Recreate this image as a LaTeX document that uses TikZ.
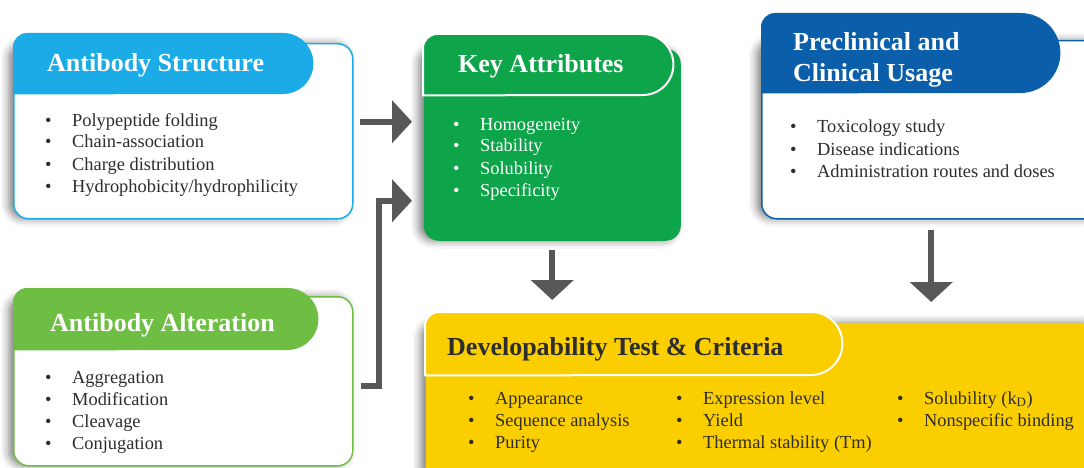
\documentclass[tikz,border=0pt]{standalone}
\usepackage{fontspec}
\setmainfont{Liberation Serif}
\usetikzlibrary{arrows.meta,positioning,shadows.blur,calc}
\definecolor{skyblue}{RGB}{27,172,231}
\definecolor{deepblue}{RGB}{11,94,170}
\definecolor{keygreen}{RGB}{14,165,74}
\definecolor{leafgreen}{RGB}{110,190,68}
\definecolor{gold}{RGB}{251,206,0}
\definecolor{arrowgray}{RGB}{88,88,88}
\definecolor{inkgray}{RGB}{45,45,45}

% bullet with a fixed gap before the item text
\newcommand{\bul}{\makebox[27pt][l]{\textbullet}}
% header pill: square lower left, small round upper left, half circle on the right
\newcommand{\pillshape}[3]{%
  \path[#3] (#1.south west) -- ([yshift=-14pt]#1.north west)
    arc[start angle=180, end angle=90, radius=14pt]
    -- ([xshift=-#2]#1.north east)
    arc[start angle=90, end angle=-90, radius=#2] -- cycle;}

\begin{document}
\begin{tikzpicture}[x=1pt,y=-1pt,
    panel/.style={rectangle, rounded corners=15pt, anchor=north west, inner sep=0pt,
      line width=1.5pt, fill=white,
      blur shadow={shadow xshift=-5pt, shadow yshift=0pt, shadow blur radius=8pt, shadow opacity=50}},
    pill/.style={rectangle, anchor=north west, inner sep=0pt},
    headtext/.style={anchor=base west, inner sep=0pt, text=white, align=left,
      font=\fontsize{26}{31}\selectfont\bfseries},
    itemlist/.style={anchor=base west, inner sep=0pt, align=left, text=inkgray,
      font=\fontsize{18.4}{22}\selectfont},
    flow/.style={draw=arrowgray, line width=6pt, line join=miter,
      -{Triangle[width=42pt,length=20pt]}}]
  \useasboundingbox (0,0) rectangle (1084,468);
  \clip (0,0) rectangle (1084,468);

  % panels
  \node[panel, draw=skyblue, minimum width=339pt, minimum height=175pt] (structure) at (13,43) {};
  \node[panel, draw=none, fill=keygreen, minimum width=257pt, minimum height=192pt] (key) at (423,48) {};
  \node[panel, draw=deepblue, minimum width=339pt, minimum height=178pt] (clinical) at (761,40) {};
  \node[panel, draw=leafgreen, minimum width=339pt, minimum height=169pt] (alteration) at (13,296) {};
  \node[panel, draw=none, fill=gold, minimum width=675pt, minimum height=158pt] (dev) at (425,322) {};

  % header pills
  \node[pill, minimum width=300pt, minimum height=61pt] (structureHead) at (13,33) {};
  \node[pill, minimum width=250pt, minimum height=61pt] (keyHead) at (423,34) {};
  \node[pill, minimum width=299pt, minimum height=80pt] (clinicalHead) at (761,13) {};
  \node[pill, minimum width=305pt, minimum height=62pt] (alterationHead) at (13,288) {};
  \node[pill, minimum width=417pt, minimum height=63pt] (devHead) at (425,312) {};
  \pillshape{structureHead}{30.5pt}{fill=skyblue}
  \pillshape{keyHead}{30.5pt}{fill=keygreen, draw=white, line width=2pt}
  \pillshape{clinicalHead}{40pt}{fill=deepblue}
  \pillshape{alterationHead}{31pt}{fill=leafgreen}
  \pillshape{devHead}{31.5pt}{fill=gold, draw=white, line width=2pt}

  % titles (base = last line)
  \node[headtext] (structureTitle) at (47,72) {Antibody Structure};
  \node[headtext] (keyTitle) at (458,73) {Key Attributes};
  \node[headtext] (clinicalTitle) at (793,82) {Preclinical and\\Clinical Usage};
  \node[headtext] (alterationTitle) at (50,331) {Antibody Alteration};
  \node[headtext, text=inkgray] (devTitle) at (447,355) {Developability Test \& Criteria};

  % bullet lists
  \node[itemlist] (structureList) at (45,192) {\bul Polypeptide folding\\\bul Chain-association\\\bul Charge distribution\\\bul Hydrophobicity/hydrophilicity};
  \node[itemlist, text=white] (keyList) at (453,196) {\bul Homogeneity\\\bul Stability\\\bul Solubility\\\bul Specificity};
  \node[itemlist] (clinicalList) at (790,177) {\bul Toxicology study\\\bul Disease indications\\\bul Administration routes and doses};
  \node[itemlist] (alterationList) at (45,449) {\bul Aggregation\\\bul Modification\\\bul Cleavage\\\bul Conjugation};
  \node[itemlist] (devListA) at (468,448) {\bul Appearance\\\bul Sequence analysis\\\bul Purity};
  \node[itemlist] (devListB) at (676,448) {\bul Expression level\\\bul Yield\\\bul Thermal stability (Tm)};
  \node[itemlist] (devListC) at (897,426) {\bul Solubility (k\textsubscript{D})\\\bul Nonspecific binding};

  % connectors
  \draw[flow] ([shift={(6pt,9.5pt)}]structure.east) coordinate (s1) -- ($(s1 -| key.west)+(-11pt,0pt)$);
  \draw[flow] ([shift={(7pt,-4.5pt)}]alteration.east) -- ++(18pt,0pt) |- ([shift={(-11pt,-56pt)}]key.west);
  \draw[flow] ([yshift=-8pt]key.south) -- ($(key.south |- devHead.north)+(0pt,12pt)$);
  \draw[flow] ([yshift=-10pt]clinical.south) -- ($(clinical.south |- dev.north)+(0pt,20pt)$);
\end{tikzpicture}
\end{document}
